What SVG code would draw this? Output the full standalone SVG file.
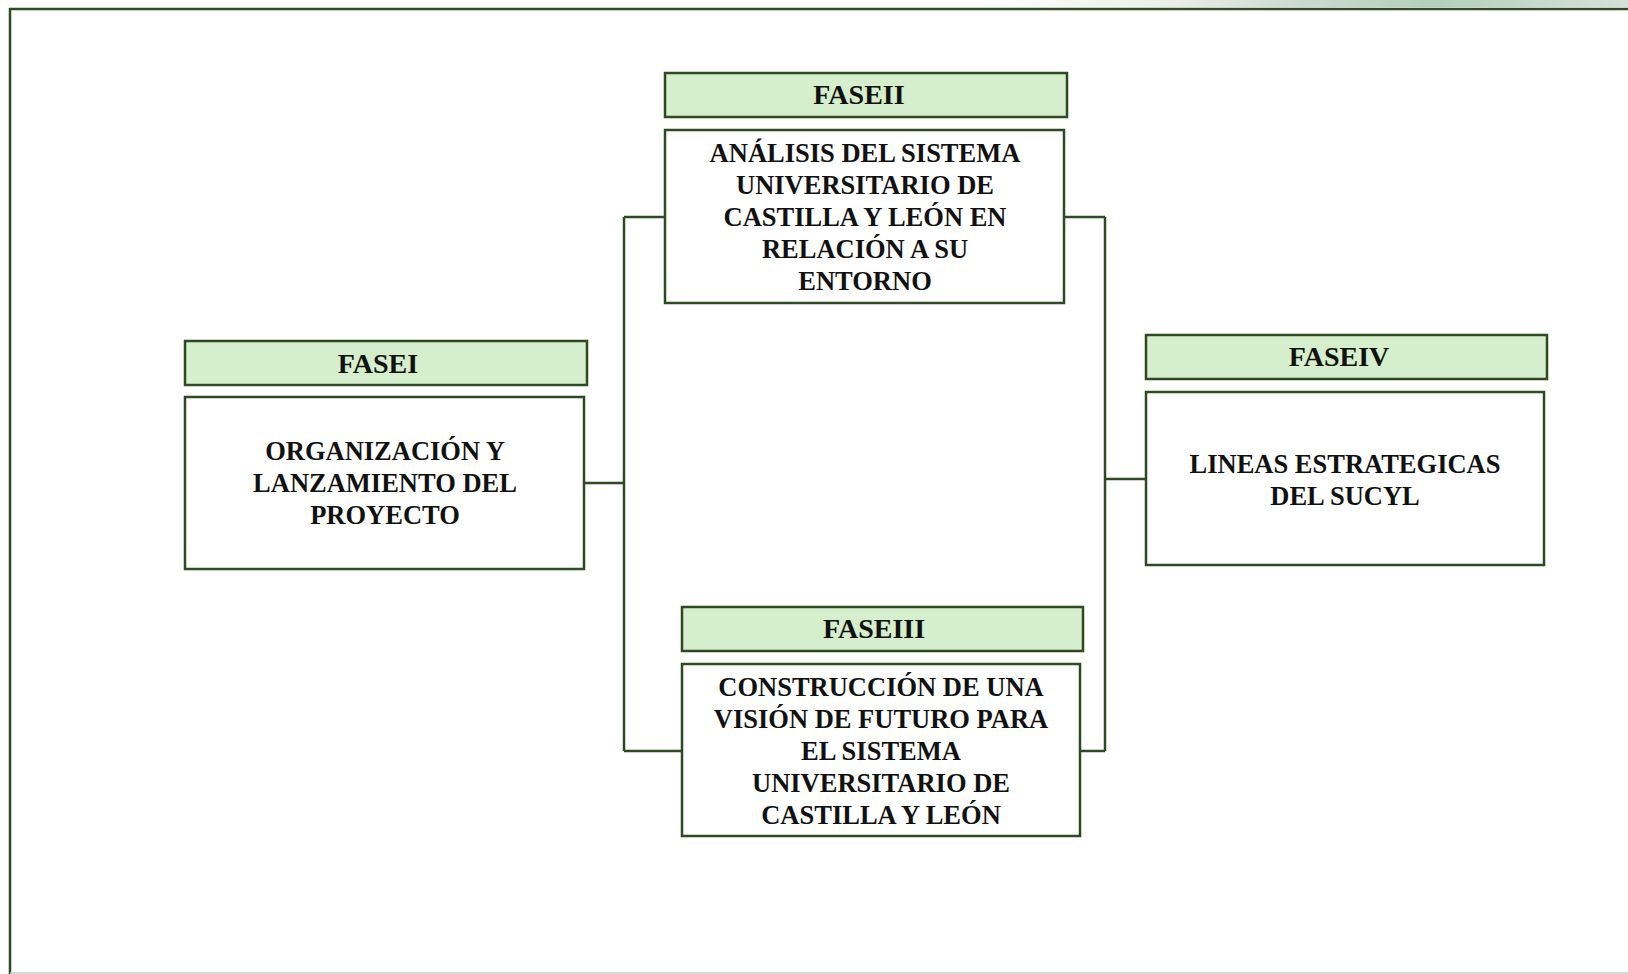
<svg xmlns="http://www.w3.org/2000/svg" width="1628" height="974" viewBox="0 0 1628 974">
<defs>
<linearGradient id="strip" x1="0" y1="0" x2="1" y2="0">
<stop offset="0" stop-color="#ffffff"/>
<stop offset="0.3" stop-color="#eaeeea"/>
<stop offset="0.5" stop-color="#cbdacf"/>
<stop offset="0.7" stop-color="#b4cfbd"/>
<stop offset="1" stop-color="#d6e1d9"/>
</linearGradient>
</defs>
<style>
.hdr{fill:#d5eecb;stroke:#2d4a21;stroke-width:2.5}
.box{fill:#ffffff;stroke:#2d4a21;stroke-width:2.5}
.con{fill:none;stroke:#2d4a21;stroke-width:2.5}
text{font-family:"Liberation Serif","Times New Roman",serif;font-weight:bold;font-size:26.5px;fill:#111;text-anchor:middle}
.ht{font-size:28px;word-spacing:-7px}
</style>
<rect width="1628" height="974" fill="#ffffff"/>
<rect x="975" y="0" width="653" height="7" fill="url(#strip)"/>
<g id="frame">
<polyline class="con" points="10,974 10,9 1628,9"/>
<line x1="10" y1="973" x2="1628" y2="973" stroke="#c8cec8" stroke-width="1.5"/>
</g>
<g id="connectors">
<line class="con" x1="624" y1="217" x2="624" y2="751"/>
<line class="con" x1="624" y1="217" x2="665" y2="217"/>
<line class="con" x1="584" y1="483" x2="624" y2="483"/>
<line class="con" x1="624" y1="751" x2="682" y2="751"/>
<line class="con" x1="1105" y1="217" x2="1105" y2="751"/>
<line class="con" x1="1064" y1="217" x2="1105" y2="217"/>
<line class="con" x1="1080" y1="751" x2="1105" y2="751"/>
<line class="con" x1="1105" y1="479" x2="1146" y2="479"/>
</g>
<g id="fase1">
<rect class="hdr" x="185" y="341" width="402" height="44"/>
<text class="ht" x="378" y="373">FASE I</text>
<rect class="box" x="185" y="397" width="399" height="172"/>
<text x="385" y="460">ORGANIZACIÓN Y</text>
<text x="385" y="492">LANZAMIENTO DEL</text>
<text x="385" y="524">PROYECTO</text>
</g>
<g id="fase2">
<rect class="hdr" x="665" y="73" width="402" height="44"/>
<text class="ht" x="859" y="104">FASE II</text>
<rect class="box" x="665" y="130" width="399" height="173"/>
<text x="865" y="162">ANÁLISIS DEL SISTEMA</text>
<text x="865" y="194">UNIVERSITARIO DE</text>
<text x="865" y="226">CASTILLA Y LEÓN EN</text>
<text x="865" y="258">RELACIÓN A SU</text>
<text x="865" y="290">ENTORNO</text>
</g>
<g id="fase3">
<rect class="hdr" x="682" y="607" width="401" height="44"/>
<text class="ht" x="874" y="638">FASE III</text>
<rect class="box" x="682" y="664" width="398" height="172"/>
<text x="881" y="696">CONSTRUCCIÓN DE UNA</text>
<text x="881" y="728">VISIÓN DE FUTURO PARA</text>
<text x="881" y="760">EL SISTEMA</text>
<text x="881" y="792">UNIVERSITARIO DE</text>
<text x="881" y="824">CASTILLA Y LEÓN</text>
</g>
<g id="fase4">
<rect class="hdr" x="1146" y="335" width="401" height="44"/>
<text class="ht" x="1339" y="366">FASE IV</text>
<rect class="box" x="1146" y="392" width="398" height="173"/>
<text x="1345" y="473">LINEAS ESTRATEGICAS</text>
<text x="1345" y="505">DEL SUCYL</text>
</g>
</svg>
